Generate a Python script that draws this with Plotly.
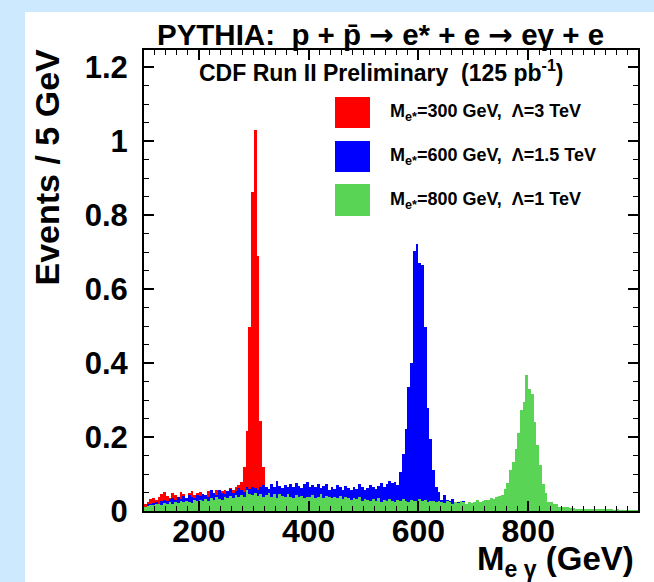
import plotly.graph_objects as go

# ---------------- data (Events / 5 GeV, bins from 100 to 1000 GeV) ----------------
BIN_START = 100
BIN_WIDTH = 5

red_300 = [
    0.018, 0.025, 0.032, 0.035, 0.030, 0.038, 0.045, 0.052, 0.040, 0.035,
    0.048, 0.042, 0.038, 0.052, 0.045, 0.036, 0.050, 0.055, 0.044, 0.048,
    0.052, 0.046, 0.040, 0.055, 0.050, 0.044, 0.058, 0.048, 0.053, 0.057,
    0.050, 0.062, 0.057, 0.066, 0.070, 0.079, 0.120, 0.216, 0.497, 0.862,
    1.030, 0.690, 0.243, 0.120, 0.060, 0.055, 0.050, 0.058, 0.048, 0.052,
    0.045, 0.050, 0.042, 0.048, 0.044, 0.040, 0.046, 0.038, 0.042, 0.040,
    0.036, 0.040, 0.034, 0.038, 0.032, 0.036, 0.030, 0.034, 0.028, 0.032,
    0.030, 0.026, 0.029, 0.024, 0.027, 0.022, 0.025, 0.021, 0.023, 0.020,
    0.022, 0.018, 0.020, 0.017, 0.019, 0.016, 0.018, 0.015, 0.016, 0.014,
    0.015, 0.013, 0.014, 0.012, 0.013, 0.011, 0.012, 0.010, 0.011, 0.010,
    0.010, 0.009, 0.010, 0.008, 0.009, 0.008, 0.008, 0.007, 0.008, 0.007,
    0.007, 0.006, 0.007, 0.006, 0.006, 0.005, 0.006, 0.005, 0.005, 0.005,
    0.005, 0.004, 0.005, 0.004, 0.004, 0.004, 0.004, 0.003, 0.004, 0.003,
    0.003, 0.003, 0.003, 0.003, 0.003, 0.002, 0.003, 0.002, 0.002, 0.002,
    0.002, 0.002, 0.002, 0.002, 0.002, 0.002, 0.001, 0.002, 0.001, 0.002,
    0.001, 0.002, 0.001, 0.001, 0.001, 0.001, 0.001, 0.001, 0.004, 0.001,
    0.001, 0.001, 0.001, 0.001, 0.001, 0.001, 0.001, 0.001, 0.001, 0.001,
    0.001, 0.001, 0.001, 0.001, 0.001, 0.001, 0.001, 0.001, 0.001, 0.001,
]

blue_600 = [
    0.012, 0.018, 0.020, 0.022, 0.025, 0.020, 0.028, 0.030, 0.026, 0.032,
    0.035, 0.030, 0.038, 0.033, 0.040, 0.036, 0.042, 0.038, 0.035, 0.044,
    0.040, 0.046, 0.042, 0.038, 0.056, 0.048, 0.044, 0.058, 0.050, 0.046,
    0.054, 0.060, 0.048, 0.055, 0.062, 0.058, 0.052, 0.064, 0.060, 0.066,
    0.062, 0.058, 0.066, 0.070, 0.064, 0.060, 0.072, 0.066, 0.080, 0.068,
    0.062, 0.070, 0.066, 0.074, 0.064, 0.076, 0.068, 0.062, 0.072, 0.078,
    0.066, 0.070, 0.064, 0.072, 0.062, 0.068, 0.074, 0.058, 0.066, 0.060,
    0.070, 0.064, 0.058, 0.068, 0.062, 0.056, 0.066, 0.060, 0.072, 0.064,
    0.058, 0.062, 0.070, 0.064, 0.060, 0.068, 0.076, 0.066, 0.072, 0.080,
    0.075, 0.078, 0.070, 0.106, 0.154, 0.222, 0.336, 0.400, 0.703, 0.722,
    0.669, 0.665, 0.497, 0.278, 0.195, 0.111, 0.066, 0.052, 0.030, 0.043,
    0.030, 0.026, 0.032, 0.022, 0.025, 0.020, 0.028, 0.018, 0.022, 0.020,
    0.024, 0.016, 0.020, 0.018, 0.015, 0.017, 0.014, 0.016, 0.013, 0.012,
    0.012, 0.011, 0.010, 0.010, 0.009, 0.009, 0.008, 0.008, 0.008, 0.007,
    0.007, 0.007, 0.006, 0.006, 0.006, 0.005, 0.005, 0.005, 0.005, 0.004,
    0.004, 0.004, 0.004, 0.004, 0.006, 0.003, 0.003, 0.003, 0.003, 0.003,
    0.003, 0.002, 0.003, 0.002, 0.002, 0.002, 0.003, 0.002, 0.002, 0.002,
    0.002, 0.002, 0.001, 0.002, 0.001, 0.001, 0.002, 0.001, 0.001, 0.001,
]

green_800 = [
    0.010, 0.014, 0.016, 0.015, 0.018, 0.020, 0.016, 0.022, 0.019, 0.024,
    0.020, 0.024, 0.022, 0.026, 0.023, 0.028, 0.025, 0.022, 0.030, 0.026,
    0.031, 0.027, 0.033, 0.028, 0.035, 0.030, 0.037, 0.032, 0.029, 0.038,
    0.034, 0.040, 0.035, 0.042, 0.037, 0.044, 0.039, 0.056, 0.046, 0.042,
    0.048, 0.040, 0.046, 0.037, 0.043, 0.050, 0.039, 0.045, 0.036, 0.046,
    0.041, 0.037, 0.045, 0.039, 0.034, 0.043, 0.037, 0.041, 0.035, 0.039,
    0.037, 0.043, 0.034, 0.039, 0.046, 0.035, 0.041, 0.037, 0.034, 0.039,
    0.035, 0.041, 0.032, 0.037, 0.034, 0.030, 0.035, 0.032, 0.037, 0.028,
    0.033, 0.030, 0.026, 0.032, 0.028, 0.034, 0.025, 0.030, 0.026, 0.032,
    0.028, 0.025, 0.030, 0.026, 0.032, 0.028, 0.025, 0.030, 0.026, 0.028,
    0.032, 0.026, 0.030, 0.025, 0.028, 0.026, 0.023, 0.028, 0.025, 0.021,
    0.026, 0.023, 0.019, 0.025, 0.021, 0.026, 0.023, 0.019, 0.025, 0.021,
    0.025, 0.029, 0.023, 0.027, 0.031, 0.029, 0.035, 0.033, 0.039, 0.041,
    0.043, 0.060, 0.076, 0.111, 0.133, 0.167, 0.210, 0.273, 0.295, 0.368,
    0.330, 0.315, 0.241, 0.178, 0.124, 0.073, 0.048, 0.025, 0.025, 0.019,
    0.019, 0.012, 0.012, 0.010, 0.010, 0.008, 0.007, 0.006, 0.006, 0.005,
    0.005, 0.005, 0.004, 0.004, 0.004, 0.003, 0.004, 0.003, 0.003, 0.003,
    0.003, 0.002, 0.003, 0.002, 0.002, 0.002, 0.002, 0.001, 0.002, 0.001,
]

series_names = [
    "M<sub>e*</sub>=300 GeV,  \u039b=3 TeV",
    "M<sub>e*</sub>=600 GeV,  \u039b=1.5 TeV",
    "M<sub>e*</sub>=800 GeV,  \u039b=1 TeV",
]
series_values = [red_300, blue_600, green_800]
series_colors = ["#ff0000", "#0000ff", "#59d454"]

x_tickvals = [200, 400, 600, 800]
y_tickvals = [0, 0.2, 0.4, 0.6, 0.8, 1.0, 1.2]

# ---------------- figure ----------------
W, H = 654, 582
L, R, T, B = 144, 16, 50, 71
PW, PH = W - L - R, H - T - B

def px_x(px):
    return (px - L) / PW

def px_y(py):
    return (H - B - py) / PH

FONT = "Liberation Sans, Arial, Helvetica, sans-serif"
ARROW = "<span style='font-family:DejaVu Sans'>\u2192</span>"

fig = go.Figure()
for name, vals, col in zip(series_names, series_values, series_colors):
    centers = [BIN_START + BIN_WIDTH * (i + 0.5) for i in range(len(vals))]
    fig.add_trace(go.Bar(
        x=centers, y=vals, width=BIN_WIDTH, name=name,
        marker=dict(color=col, line=dict(width=0)),
        showlegend=False, hoverinfo="skip",
    ))

fig.update_layout(
    width=W, height=H,
    margin=dict(l=L, r=R, t=T, b=B, pad=0),
    paper_bgcolor="#cce9fd",
    plot_bgcolor="white",
    barmode="overlay",
    bargap=0,
    font=dict(family=FONT, color="black"),
)

axis_common = dict(
    showgrid=False, zeroline=False,
    showline=True, linecolor="black", linewidth=2, mirror="ticks",
    ticks="inside", ticklen=10, tickwidth=1.5, tickcolor="black",
)

fig.update_xaxes(
    range=[100, 1000], tickvals=x_tickvals,
    minor=dict(dtick=20, ticklen=5, tickwidth=1, tickcolor="black", ticks="inside", showgrid=False),
    tickfont=dict(family=FONT, size=32, color="black", weight="bold"),
    ticklabelstandoff=-9,
    **axis_common,
)
fig.update_yaxes(
    range=[0, 1.246], tickvals=y_tickvals,
    minor=dict(dtick=0.05, ticklen=5, tickwidth=1, tickcolor="black", ticks="inside", showgrid=False),
    tickfont=dict(family=FONT, size=31, color="black", weight="bold"),
    ticklabelstandoff=8,
    **axis_common,
)

# white panel (slide background)
fig.add_shape(type="rect", xref="paper", yref="paper",
              x0=px_x(25), x1=px_x(W + 5), y0=px_y(H + 5), y1=px_y(12),
              fillcolor="white", line=dict(width=0), layer="below")

# legend keys
key_rows = [(97, 128), (141, 172), (184, 216)]
for (top, bot), col, name in zip(key_rows, series_colors, series_names):
    fig.add_shape(type="rect", xref="paper", yref="paper",
                  x0=px_x(335), x1=px_x(370), y0=px_y(bot), y1=px_y(top),
                  fillcolor=col, line=dict(width=0))
    fig.add_annotation(xref="paper", yref="paper", x=px_x(388), y=px_y((top + bot) / 2),
                       xanchor="left", yanchor="middle", showarrow=False,
                       text="<b>" + name + "</b>", font=dict(family=FONT, size=18, color="black"))

# titles
fig.add_annotation(xref="paper", yref="paper", x=px_x(380), y=px_y(35),
                   xanchor="center", yanchor="middle", showarrow=False,
                   text="<b>PYTHIA:  p + p\u0304 " + ARROW + " e* + e " + ARROW + " e\u03b3 + e</b>",
                   font=dict(family=FONT, size=29.5, color="black"))
fig.add_annotation(xref="paper", yref="paper", x=px_x(381), y=px_y(71),
                   xanchor="center", yanchor="middle", showarrow=False,
                   text="<b>CDF Run II Preliminary  (125 pb<sup>-1</sup>)</b>",
                   font=dict(family=FONT, size=23, color="black"))
fig.add_annotation(xref="paper", yref="paper", x=px_x(47), y=px_y(47),
                   xanchor="center", yanchor="top", showarrow=False, textangle=-90,
                   text="<b>Events / 5 GeV</b>",
                   font=dict(family=FONT, size=34, color="black"))
fig.add_annotation(xref="paper", yref="paper", x=px_x(636), y=px_y(538),
                   xanchor="right", yanchor="top", showarrow=False,
                   text="<b>M<sub>e \u03b3</sub> (GeV)</b>",
                   font=dict(family=FONT, size=33, color="black"))

fig.write_html("out.html", config={"displayModeBar": False},
               post_script="document.body.style.margin='0';")
